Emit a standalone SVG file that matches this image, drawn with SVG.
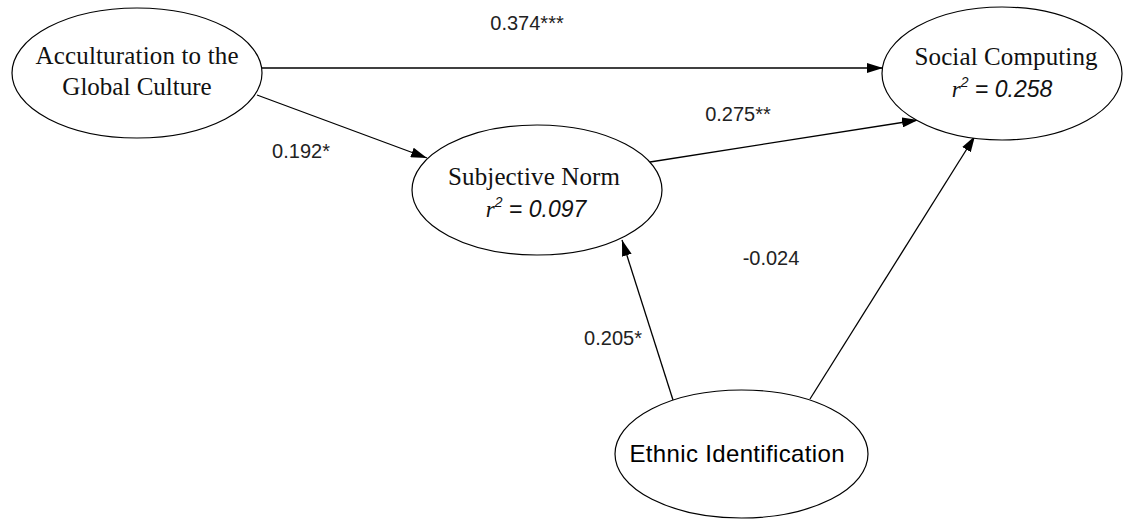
<svg xmlns="http://www.w3.org/2000/svg" width="1127" height="521" viewBox="0 0 1127 521">
<style>
.node{fill:#fff;stroke:#000;stroke-width:1.2}
.serif{font-family:"Liberation Serif","Times New Roman",serif;font-size:25px;fill:#111}
.r2{font-family:"Liberation Sans",Arial,sans-serif;font-style:italic;font-size:23px;fill:#111}
.lbl{font-family:"Liberation Sans",Arial,sans-serif;font-size:20px;fill:#222}
.sans{font-family:"Liberation Sans",Arial,sans-serif;font-size:24px;fill:#000}
.edge{stroke:#000;stroke-width:1.3;fill:none}
</style>
<defs>
<marker id="arr" viewBox="0 0 16 10" refX="16" refY="5" markerWidth="16" markerHeight="10" markerUnits="userSpaceOnUse" orient="auto">
<path d="M0,0 L16,5 L0,10 Z" fill="#000"/>
</marker>
</defs>
<rect width="1127" height="521" fill="#fff"/>
<g id="connectors">
<line class="edge" x1="262" y1="68" x2="883" y2="68" marker-end="url(#arr)"/>
<line class="edge" x1="257" y1="95" x2="427" y2="158" marker-end="url(#arr)"/>
<line class="edge" x1="650" y1="162" x2="918" y2="120" marker-end="url(#arr)"/>
<line class="edge" x1="673" y1="400" x2="622" y2="240" marker-end="url(#arr)"/>
<line class="edge" x1="810" y1="399" x2="975" y2="136" marker-end="url(#arr)"/>
<text class="lbl" x="527" y="30" text-anchor="middle">0.374***</text>
<text class="lbl" x="301" y="158" text-anchor="middle">0.192*</text>
<text class="lbl" x="738" y="121" text-anchor="middle">0.275**</text>
<text class="lbl" x="771" y="265" text-anchor="middle">-0.024</text>
<text class="lbl" x="613" y="345" text-anchor="middle">0.205*</text>
</g>
<g id="acculturation">
<ellipse class="node" cx="137" cy="73" rx="125" ry="65"/>
<text class="serif" x="137" y="64" text-anchor="middle" textLength="203" lengthAdjust="spacing">Acculturation to the</text>
<text class="serif" x="137" y="95" text-anchor="middle">Global Culture</text>
</g>
<g id="social-computing">
<ellipse class="node" cx="1002" cy="73.5" rx="120" ry="66.5"/>
<text class="serif" x="1006" y="65" text-anchor="middle" textLength="183" lengthAdjust="spacing">Social Computing</text>
<text class="r2" x="1002" y="97" text-anchor="middle"><tspan font-family="Liberation Serif">r</tspan><tspan font-size="14" dy="-10">2</tspan><tspan dy="10"> = 0.258</tspan></text>
</g>
<g id="subjective-norm">
<ellipse class="node" cx="537" cy="190" rx="125" ry="65"/>
<text class="serif" x="534" y="185" text-anchor="middle" textLength="172" lengthAdjust="spacing">Subjective Norm</text>
<text class="r2" x="536" y="217" text-anchor="middle"><tspan font-family="Liberation Serif">r</tspan><tspan font-size="14" dy="-10">2</tspan><tspan dy="10"> = 0.097</tspan></text>
</g>
<g id="ethnic-identification">
<ellipse class="node" cx="741.5" cy="454" rx="126.5" ry="64"/>
<text class="sans" x="737" y="462" text-anchor="middle" textLength="215" lengthAdjust="spacing">Ethnic Identification</text>
</g>
</svg>
